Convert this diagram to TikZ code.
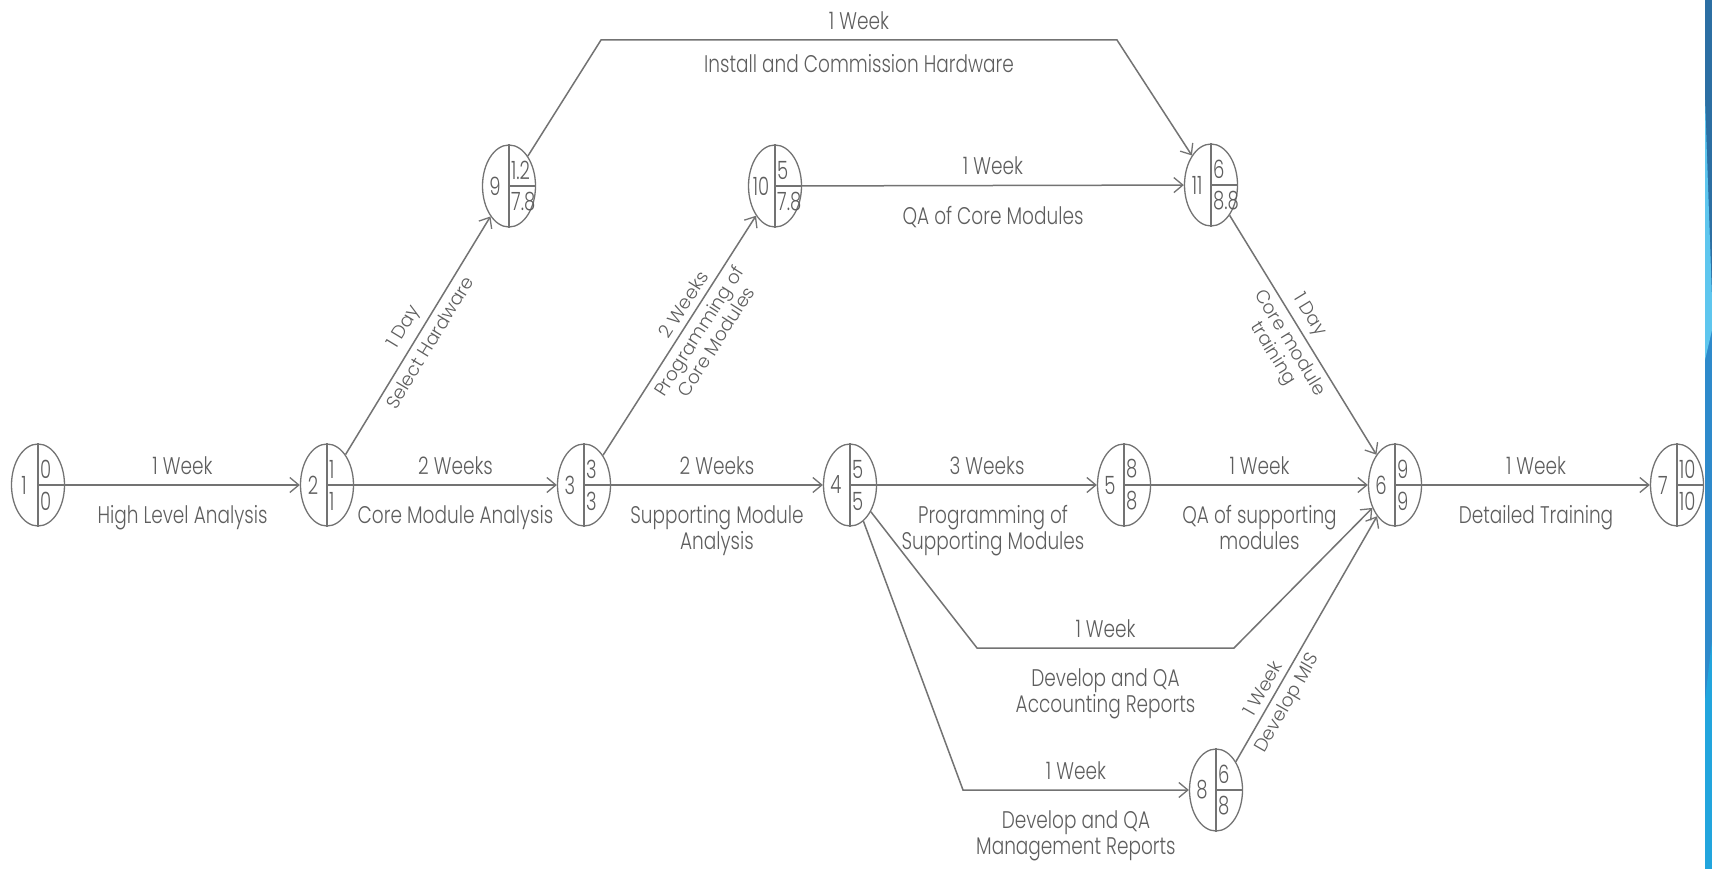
\documentclass[tikz,border=0pt]{standalone}
\usepackage{fontspec}
\IfFontExistsTF{Poppins Light}{\setmainfont{Poppins Light}}{\setmainfont{Poppins}}
\usetikzlibrary{arrows.meta,shapes.geometric}
\definecolor{ln}{HTML}{737373}
\definecolor{tx}{HTML}{5E5E5E}
\definecolor{stripA}{HTML}{2C6FA3}
\definecolor{stripB}{HTML}{5EC6EE}
\definecolor{stripC}{HTML}{2E8ACB}
\definecolor{stripD}{HTML}{22A5DD}
\tikzset{
  ev/.style={ellipse, draw=ln, line width=1.3pt, minimum width=53pt, minimum height=82pt, inner sep=0pt},
  divider/.style={draw=ln, line width=1.3pt},
  num/.style={text=tx, font=\fontsize{18}{18}\selectfont, inner sep=0pt, yscale=1.4, transform shape},
  edge/.style={draw=ln, line width=1.5pt, -{Straight Barb[length=9pt,width=15pt,line width=1.3pt]}},
  lab/.style={text=tx, font=\fontsize{18.5}{20}\selectfont, align=center, inner sep=2pt},
  ab/.style={lab, above=7pt, yscale=1.3, transform shape},
  bl/.style={lab, below=17pt, yscale=1.3, transform shape},
  blt/.style={lab, below=11pt, yscale=1.3, transform shape},
  sab/.style={lab, sloped, above=4pt},
  sbl/.style={lab, sloped, below=4pt},
}
\newcommand\evnode[6]{%
  \node[ev] (#1) at (#2,#3) {};
  \draw[divider] (#1.north) -- (#1.south);
  \draw[divider] (#1.center) -- (#1.east);
  \node[num] (#1-n) at ([xshift=-14pt]#1.center) {#4};
  \node[num, anchor=west] (#1-t) at ([xshift=2pt,yshift=16pt]#1.center) {#5};
  \node[num, anchor=west] (#1-b) at ([xshift=2pt,yshift=-16pt]#1.center) {#6};
}
\begin{document}
\begin{tikzpicture}[x=1pt,y=-1pt]
\useasboundingbox (0,0) rectangle (1712,869);
\fill[white] (0,0) rectangle (1712,869);
% right slide strip
\fill[stripC] (1705,0) rectangle (1712,869);
\fill[stripA] (1705,0) -- (1712,0) -- (1712,300) -- (1705,100) -- cycle;
\fill[stripB] (1705,100) -- (1712,300) -- (1712,330) -- (1705,360) -- cycle;
\fill[stripD] (1705,700) -- (1712,640) -- (1712,869) -- (1705,869) -- cycle;

% events
\evnode{n1}{38}{485}{1}{0}{0}
\evnode{n2}{327}{485}{2}{1}{1}
\evnode{n3}{584}{485}{3}{3}{3}
\evnode{n4}{850}{485}{4}{5}{5}
\evnode{n5}{1124}{485}{5}{8}{8}
\evnode{n6}{1395}{485}{6}{9}{9}
\evnode{n7}{1677}{485}{7}{10}{10}
\evnode{n9}{509}{186}{9}{1.2}{7.8}
\evnode{n10}{775}{186}{10}{5}{7.8}
\evnode{n11}{1211}{185}{11}{6}{8.8}
\evnode{n8}{1216}{790}{8}{6}{8}

\coordinate (t1) at (601,40);
\coordinate (t2) at (1117,40);
\coordinate (a1) at (977,648);
\coordinate (a2) at (1234,648);
\coordinate (m1) at (963,790);

% main row
\draw[edge] (n1) -- node[ab]{1 Week} node[bl]{High Level Analysis} (n2);
\draw[edge] (n2) -- node[ab]{2 Weeks} node[bl]{Core Module Analysis} (n3);
\draw[edge] (n3) -- node[ab]{2 Weeks} node[bl]{Supporting Module\\Analysis} (n4);
\draw[edge] (n4) -- node[ab]{3 Weeks} node[bl,xshift=6pt]{Programming of\\Supporting Modules} (n5);
\draw[edge] (n5) -- node[ab]{1 Week} node[bl]{QA of supporting\\modules} (n6);
\draw[edge] (n6) -- node[ab]{1 Week} node[bl]{Detailed Training} (n7);

% upper branches
\draw[edge] (n2) -- node[sab,pos=0.5]{1 Day} node[sbl,pos=0.5]{Select Hardware} (n9);
\draw[edge] (n9) -- (t1) -- node[ab]{1 Week} node[blt]{Install and Commission Hardware} (t2) -- (n11);
\draw[edge] (n3) -- node[sab,pos=0.6]{2 Weeks} node[sbl,pos=0.55]{Programming of\\Core Modules} (n10);
\draw[edge] (n10) -- node[ab]{1 Week} node[bl]{QA of Core Modules} (n11);
\draw[edge] (n11) -- node[sab,pos=0.45]{1 Day} node[sbl,pos=0.5]{Core module\\training} (n6);

% lower branches
\draw[edge] (n4) -- (a1) -- node[ab]{1 Week} node[bl]{Develop and QA\\Accounting Reports} (a2) -- (n6);
\draw[edge] (n4) -- (m1) -- node[ab]{1 Week} node[bl]{Develop and QA\\Management Reports} (n8);
\draw[edge] (n8.55) -- node[sab,pos=0.27]{1 Week} node[sbl,pos=0.27]{Develop MIS} (n6);
\end{tikzpicture}
\end{document}
